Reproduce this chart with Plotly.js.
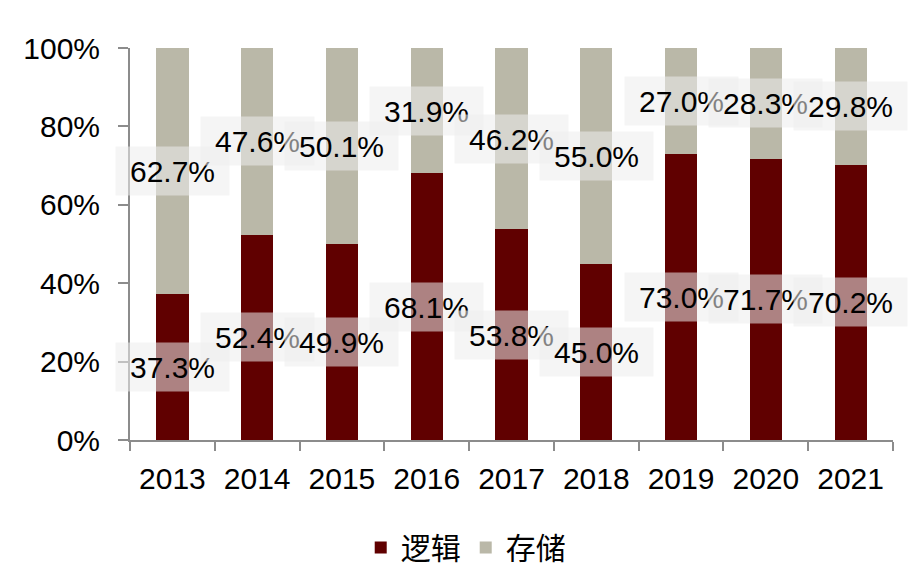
<!DOCTYPE html>
<html>
<head>
<meta charset="utf-8">
<script src="https://cdn.plot.ly/plotly-3.0.1.min.js"></script>
<style>html,body{margin:0;padding:0;background:#fff;}#chart{width:908px;height:586px;}</style>
</head>
<body>
<div id="chart"></div>
<script>
const years = ['2013','2014','2015','2016','2017','2018','2019','2020','2021'];
const logic = [37.3, 52.4, 49.9, 68.1, 53.8, 45.0, 73.0, 71.7, 70.2];
const storage = [62.7, 47.6, 50.1, 31.9, 46.2, 55.0, 27.0, 28.3, 29.8];
const seriesNames = ['逻辑', '存储'];
const colors = ['#600000', '#BAB8A8'];

const font = 'Arial, "Liberation Sans", "Noto Sans CJK SC", sans-serif';

const traces = [
  {type:'bar', name:seriesNames[0], x:years, y:logic, marker:{color:colors[0]}, width:0.38, hoverinfo:'skip'},
  {type:'bar', name:seriesNames[1], x:years, y:storage, marker:{color:colors[1]}, width:0.38, hoverinfo:'skip'}
];

const annotations = [];
years.forEach((yr, i) => {
  const segs = [[logic[i]/2, logic[i]], [logic[i] + storage[i]/2, storage[i]]];
  segs.forEach(([pos, val]) => {
    annotations.push({
      x: i, y: pos, xref:'x', yref:'y',
      text: val.toFixed(1) + '%',
      showarrow:false,
      font:{family:font, size:30, color:'#000'},
      bgcolor:'rgba(236,236,236,0.55)',
      borderpad:4, width:105, height:40,
      xanchor:'center', yanchor:'middle'
    });
  });
});

const layout = {
  width:908, height:586,
  margin:{l:130, r:15, t:48, b:144},
  paper_bgcolor:'#fff', plot_bgcolor:'#fff',
  barmode:'stack',
  showlegend:true,
  legend:{orientation:'h', x:0.44, xanchor:'center', y:-0.274, yanchor:'middle',
          font:{family:font, size:30, color:'#000'}, traceorder:'normal'},
  xaxis:{type:'category', categoryarray:years, categoryorder:'array', range:[-0.5, 8.5], autorange:false,
         showline:true, linecolor:'#8c8c8c', linewidth:2,
         ticks:'outside', tickson:'boundaries', ticklen:9, tickcolor:'#8c8c8c', tickwidth:2,
         tickangle:0, ticklabelstandoff:11,
         tickfont:{family:font, size:30, color:'#000'}, showgrid:false, zeroline:false, fixedrange:true},
  yaxis:{range:[0,100], autorange:false, dtick:20, ticksuffix:'%', showline:true, linecolor:'#8c8c8c', linewidth:2,
         ticks:'outside', ticklen:10, tickcolor:'#8c8c8c', tickwidth:2, ticklabelstandoff:12,
         tickfont:{family:font, size:30, color:'#000'}, showgrid:false, zeroline:false, fixedrange:true},
  annotations: annotations
};

Plotly.newPlot('chart', traces, layout, {displayModeBar:false, staticPlot:true});
</script>
</body>
</html>
